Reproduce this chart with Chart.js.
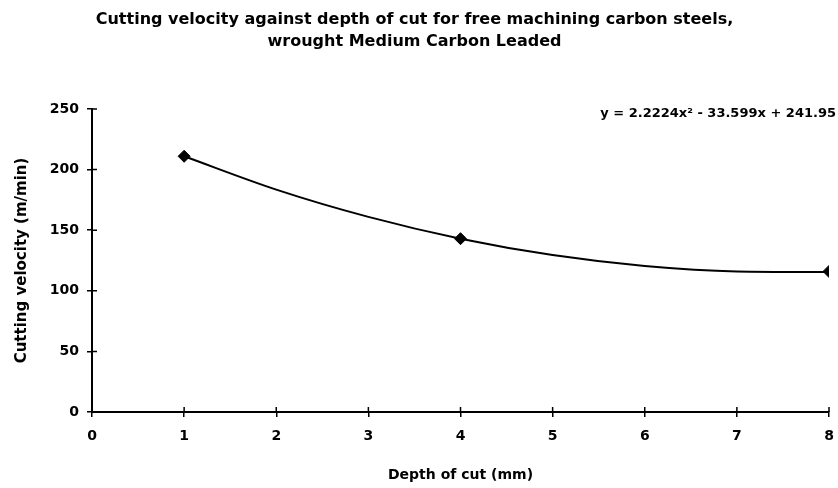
<!DOCTYPE html>
<html>
<head>
<meta charset="utf-8">
<script src="https://cdn.jsdelivr.net/npm/chart.js@4/dist/chart.umd.min.js"></script>
<style>
  html, body { margin: 0; padding: 0; background: #fff; }
  #wrap { width: 838px; height: 488px; }
</style>
</head>
<body>
<div id="wrap"><canvas id="myChart" width="838" height="488"></canvas></div>
<script>
// data
const depthCut = [1, 4, 8];
const velocity = [211, 143, 116];

// polynomial trendline
const trendDepth = [1, 2, 3, 4, 5, 6, 7, 8];
const trendVelocity = [211, 183.5, 161, 143, 129.5, 120.5, 116, 115.5];

const xTicks = [0, 1, 2, 3, 4, 5, 6, 7, 8];
const yTicks = [0, 50, 100, 150, 200, 250];

const titleLines = [
  'Cutting velocity against depth of cut for free machining carbon steels,',
  'wrought Medium Carbon Leaded'
];
const trendLabel = 'y = 2.2224x\u00B2 - 33.599x + 241.95';

const font = '"DejaVu Sans", Verdana, sans-serif';

// small tick marks poking inside the plot, plus the trendline equation
const extras = {
  id: 'extras',
  afterDraw(chart) {
    const ctx = chart.ctx;
    const x = chart.scales.x, y = chart.scales.y;
    ctx.save();
    ctx.strokeStyle = '#000';
    ctx.lineWidth = 1.5;
    ctx.beginPath();
    xTicks.forEach(v => {
      const px = x.getPixelForValue(v);
      ctx.moveTo(px, y.bottom);
      ctx.lineTo(px, y.bottom - 5);
    });
    yTicks.forEach(v => {
      const py = y.getPixelForValue(v);
      ctx.moveTo(x.left, py);
      ctx.lineTo(x.left + 5, py);
    });
    ctx.stroke();
    ctx.fillStyle = '#000';
    ctx.font = 'bold 13px ' + font;
    ctx.textAlign = 'right';
    ctx.textBaseline = 'middle';
    ctx.fillText(trendLabel, 836, 114);
    ctx.restore();
  }
};

const data = {
  datasets: [{
    label: 'Cutting velocity',
    data: depthCut.map((d, i) => ({x: d, y: velocity[i]})),
    pointStyle: 'rectRot',
    pointRadius: 6,
    backgroundColor: '#000',
    borderColor: '#000',
    order: 0
  }, {
    label: 'Poly. trend',
    data: trendDepth.map((d, i) => ({x: d, y: trendVelocity[i]})),
    showLine: true,
    pointRadius: 0,
    borderColor: '#000',
    borderWidth: 2,
    cubicInterpolationMode: 'monotone',
    order: 1
  }]
};

const config = {
  type: 'scatter',
  data,
  options: {
    responsive: false,
    animation: false,
    layout: { padding: { left: 0, right: 9, top: 0, bottom: 0 } },
    plugins: {
      legend: { display: false },
      tooltip: { enabled: false },
      title: {
        display: true,
        text: titleLines,
        color: '#000',
        font: { family: font, size: 16, weight: 'bold', lineHeight: 1.375 },
        padding: { top: 9, bottom: 56 }
      }
    },
    scales: {
      x: {
        type: 'linear',
        min: 0, max: 8,
        afterFit: s => { s.height = 76; s.paddingLeft = 0; s.paddingRight = 0; },
        border: { color: '#000', width: 2 },
        grid: { drawOnChartArea: false, color: '#000', lineWidth: 1.5, tickLength: 5 },
        ticks: { stepSize: 1, color: '#000', padding: 11, font: { family: font, size: 14, weight: 'bold' } },
        title: { display: true, text: 'Depth of cut (mm)', color: '#000', padding: { top: 16 },
          font: { family: font, size: 14, weight: 'bold' } }
      },
      y: {
        min: 0, max: 250,
        afterFit: s => { s.width = 92; },
        border: { color: '#000', width: 2 },
        grid: { drawOnChartArea: false, color: '#000', lineWidth: 1.5, tickLength: 5 },
        ticks: { stepSize: 50, color: '#000', padding: 8, font: { family: font, size: 14, weight: 'bold' } },
        title: { display: true, text: 'Cutting velocity (m/min)', color: '#000', padding: { top: 13, bottom: 0 },
          font: { family: font, size: 15, weight: 'bold' } }
      }
    }
  },
  plugins: [extras]
};

const myChart = new Chart(document.getElementById('myChart'), config);
</script>
</body>
</html>
